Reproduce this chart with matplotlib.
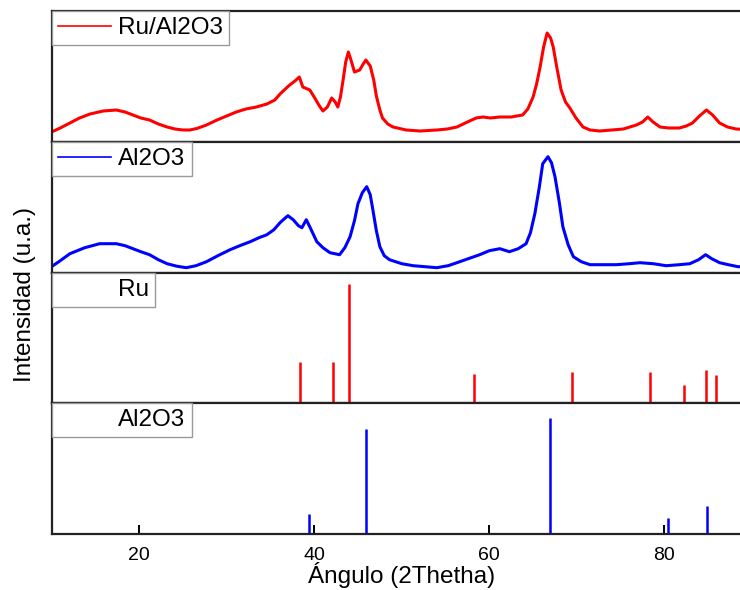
import matplotlib
matplotlib.use("Agg")
import matplotlib.pyplot as plt
from matplotlib.lines import Line2D

plt.rcParams['font.family'] = ['Liberation Sans', 'DejaVu Sans']

# XRD pattern of Ru/Al2O3 (2theta, intensity a.u.)
ru_al_x = [10.0, 11.0, 12.1, 13.2, 14.4, 15.9, 17.4, 18.4, 19.3, 20.2, 21.2, 22.2, 23.2,
           24.1, 25.0, 25.8, 26.6, 27.7, 28.9, 30.0, 31.1, 32.2, 33.4, 34.6, 35.5, 36.1,
           36.7, 37.2, 37.8, 38.3, 38.7, 39.5, 40.0, 40.6, 41.0, 41.5, 42.0, 42.4, 42.7,
           43.0, 43.3, 43.6, 43.9, 44.2, 44.6, 45.2, 45.6, 45.9, 46.4, 46.8, 47.1, 47.5,
           47.8, 48.4, 49.0, 50.5, 52.1, 54.0, 55.2, 56.3, 57.5, 58.5, 59.3, 60.1, 61.2,
           62.5, 63.8, 64.4, 65.0, 65.4, 65.8, 66.2, 66.6, 67.0, 67.3, 67.7, 68.2, 68.7,
           69.2, 69.9, 70.7, 71.5, 72.6, 74.0, 75.3, 76.8, 77.5, 78.1, 78.7, 79.5, 80.5,
           81.7, 82.5, 83.2, 84.0, 84.8, 85.5, 86.3, 87.2, 88.2, 90.0]
ru_al_y = [10, 14, 19, 24, 28, 31, 32, 30, 27, 24, 22, 18, 15,
           13, 12, 12, 13.5, 17, 22, 26, 30, 33, 35, 38, 42, 48,
           53, 57, 61, 65, 55, 52, 45, 36, 31, 35, 44, 40, 35,
           45, 62, 80, 90, 82, 70, 72, 78, 82, 76, 62, 46, 32,
           24, 18, 15, 12, 11, 12, 13, 15, 20, 24, 25, 24, 25,
           25, 27, 33, 45, 58, 75, 95, 109, 104, 95, 75, 52, 40,
           34, 24, 15, 12, 11, 12, 13, 17, 20, 25, 20, 15, 14,
           14, 16, 19, 26, 32, 27, 19, 15, 13, 12]

# XRD pattern of Al2O3 support
al_x = [10.0, 11.0, 12.1, 13.8, 15.5, 17.4, 18.4, 19.3, 20.2, 21.2, 22.2, 23.2, 24.3,
        25.4, 26.5, 27.7, 29.0, 30.4, 31.5, 32.7, 33.7, 34.6, 35.4, 36.1, 36.6, 37.0,
        37.6, 38.2, 38.6, 39.1, 39.6, 40.3, 41.0, 41.8, 42.9, 43.5, 44.1, 44.6, 45.0,
        45.5, 46.0, 46.4, 46.7, 47.1, 47.5, 48.0, 48.6, 50.0, 51.3, 54.0, 55.3, 56.3,
        57.6, 58.9, 60.0, 61.2, 62.3, 63.3, 64.2, 64.7, 65.2, 65.7, 66.1, 66.7, 67.1,
        67.5, 68.0, 68.4, 69.0, 69.6, 70.5, 71.5, 73.0, 74.5, 76.0, 77.2, 78.7, 80.2,
        81.7, 82.9, 83.9, 84.7, 85.4, 86.3, 87.3, 88.4, 90.0]
al_y = [6, 12, 19, 25, 29, 29, 27, 24, 21, 18, 13, 9, 6.5,
        5, 7, 11, 17, 23, 27, 31, 35, 38, 43, 50, 54, 57,
        53, 47, 45, 53, 44, 31, 25, 20, 18, 25, 36, 52, 69,
        80, 86, 78, 63, 42, 26, 17, 13, 9, 7, 5, 7, 10,
        14, 18, 22, 24, 21, 24, 29, 40, 59, 85, 109, 116, 110,
        96, 70, 46, 28, 16, 11, 8, 8, 8, 9, 10, 9, 7,
        8, 9, 13, 18, 14, 10, 8, 6, 6]

# reference patterns (stick positions and relative heights)
ru_ref_x = [38.39, 42.15, 44.0, 58.3, 69.4, 78.4, 82.2, 84.7, 85.9]
ru_ref_y = [40.7, 40.7, 118.7, 28.7, 30.7, 30.7, 17.7, 32.7, 27.7]
al_ref_x = [39.4, 45.87, 66.9, 80.45, 84.9]
al_ref_y = [19.7, 104.7, 115.7, 16.3, 28.0]

fig = plt.figure(figsize=(7.4, 5.9), dpi=100)

W, H = 740.0, 590.0
left, right = 51.5, 752.0
edges = [11, 142, 272.7, 402.7, 534]
axes = []
for i in range(4):
    top, bot = edges[i], edges[i + 1]
    ax = fig.add_axes([left / W, (H - bot) / H, (right - left) / W, (bot - top) / H])
    ax.set_xlim(10, 90)
    ax.set_ylim(0, bot - top)
    ax.set_yticks([])
    for s in ax.spines.values():
        s.set_linewidth(1.6)
        s.set_color('#222222')
    if i < 3:
        ax.tick_params(axis='x', bottom=False, labelbottom=False)
    axes.append(ax)

leg_kw = dict(loc='upper left', borderaxespad=0, fancybox=False, framealpha=1,
              edgecolor='#999999', fontsize=17.5, handlelength=2.2, handletextpad=0.3,
              borderpad=0.25)

ax = axes[0]
ax.plot(ru_al_x, ru_al_y, color='#ff0000', lw=2.2)
leg = ax.legend(handles=[Line2D([], [], color='#ff0000', lw=1.2)], labels=['Ru/Al2O3'], **leg_kw)
leg.get_frame().set_linewidth(1.0)

ax = axes[1]
ax.plot(al_x, al_y, color='#0000ff', lw=2.2)
leg = ax.legend(handles=[Line2D([], [], color='#0000ff', lw=1.2)], labels=['Al2O3'], **leg_kw)
leg.get_frame().set_linewidth(1.0)

ax = axes[2]
ax.vlines(ru_ref_x, 0, ru_ref_y, color='#ff0000', lw=1.8)
leg = ax.legend(handles=[Line2D([], [], linestyle='None')], labels=['Ru'], **leg_kw)
leg.get_frame().set_linewidth(1.0)

ax = axes[3]
ax.vlines(al_ref_x, 0, al_ref_y, color='#0000ff', lw=1.8)
leg = ax.legend(handles=[Line2D([], [], linestyle='None')], labels=['Al2O3'], **leg_kw)
leg.get_frame().set_linewidth(1.0)
ax.set_xticks([20, 40, 60, 80])
ax.tick_params(axis='x', direction='in', length=6.5, width=1.4, labelsize=14, pad=9)
ax.set_xlabel('Ángulo (2Thetha)', fontsize=17.5, labelpad=-1)

fig.text(25 / W, 0.5, 'Intensidad (u.a.)', rotation=90, fontsize=17.5,
         ha='center', va='center')

fig.savefig('out.png', dpi=100)
